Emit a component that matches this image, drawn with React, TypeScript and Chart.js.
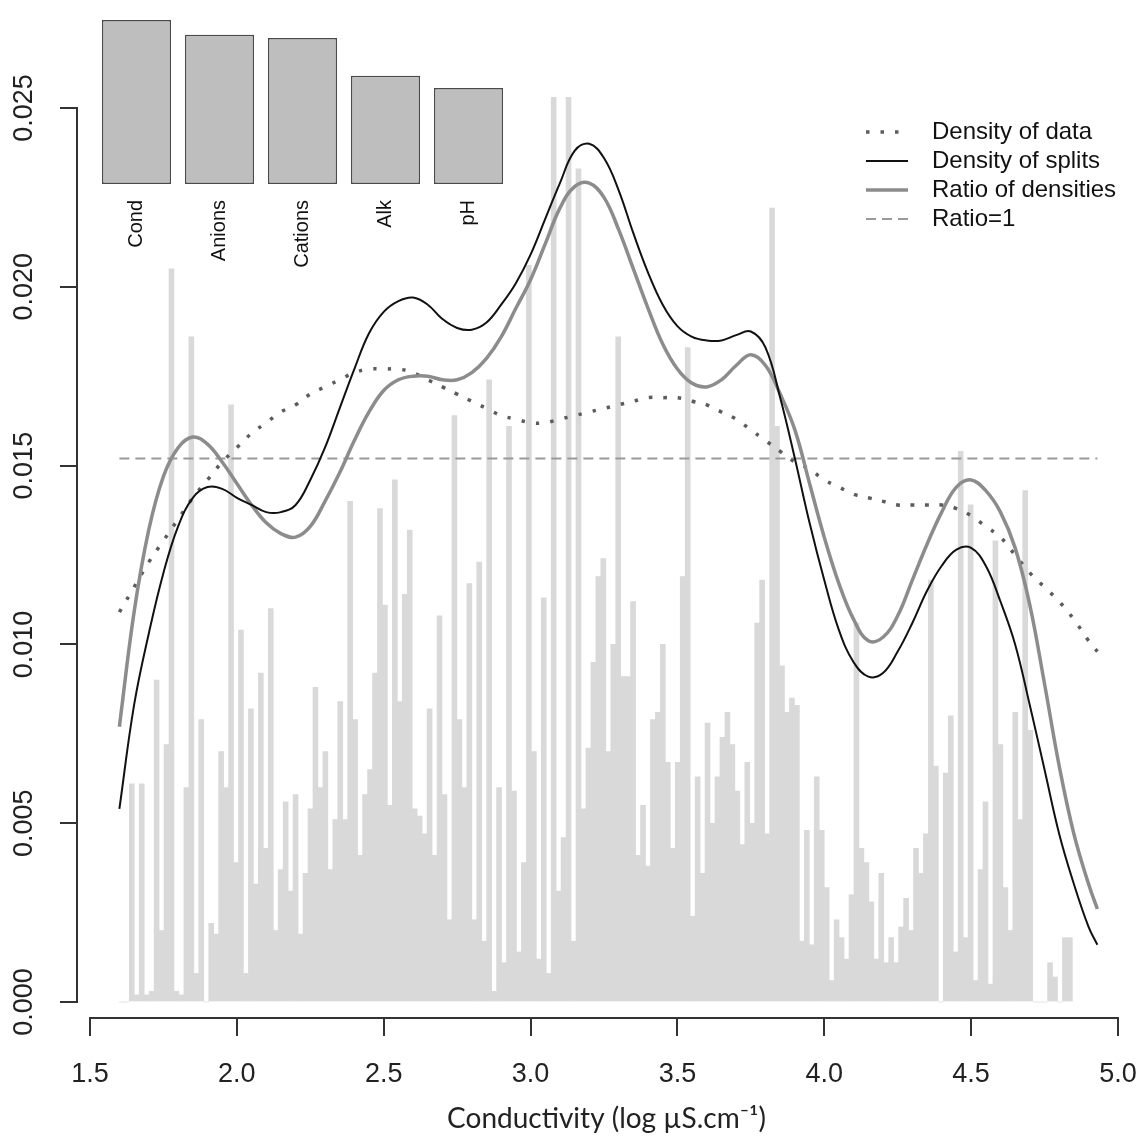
import React, { useEffect, useRef } from "react";
import Chart from "chart.js/auto";

// histogram of conductivity (density per bin)
const histStart = 1.6;
const histBinWidth = 0.0169;
const histDensity = [
  0, 0, 0.0061, 0.0002, 0.0061, 0.0002, 0.0003, 0.009, 0.002, 0.0072,
  0.0205, 0.0003, 0.0002, 0.006, 0.0186, 0.0008, 0.0079, 0, 0.0022, 0.0019,
  0.007, 0.006, 0.0167, 0.0039, 0.0104, 0.0008, 0.0082, 0.0033, 0.0092, 0.0043,
  0.011, 0.002, 0.0037, 0.0056, 0.0031, 0.0058, 0.0019, 0.0036, 0.0054, 0.0088,
  0.006, 0.007, 0.0037, 0.0051, 0.0084, 0.0051, 0.014, 0.0079, 0.0041, 0.0058,
  0.0065, 0.0092, 0.0138, 0.0111, 0.0055, 0.0146, 0.0084, 0.0114, 0.0132, 0.0054,
  0.0052, 0.0047, 0.0082, 0.0041, 0.0108, 0.0058, 0.0023, 0.0164, 0.0079, 0.006,
  0.0117, 0.0023, 0.0123, 0.0017, 0.0174, 0.0003, 0.006, 0.0011, 0.0161, 0.0059,
  0.0014, 0.0039, 0.0206, 0.007, 0.0012, 0.0113, 0.0008, 0.0253, 0.0031, 0.0046,
  0.0253, 0.0017, 0.0233, 0.0054, 0.0071, 0.0095, 0.0119, 0.0124, 0.007, 0.01,
  0.0186, 0.0091, 0.0091, 0.0112, 0.0041, 0.0055, 0.0038, 0.0079, 0.0081, 0.01,
  0.0067, 0.0043, 0.0067, 0.0119, 0.0183, 0.0024, 0.0063, 0.0036, 0.0078, 0.005,
  0.0063, 0.0074, 0.0081, 0.0072, 0.0059, 0.0044, 0.0067, 0.005, 0.0106, 0.0118,
  0.0047, 0.0222, 0.0161, 0.0094, 0.0081, 0.0085, 0.0083, 0.0017, 0.0048, 0.0016,
  0.0063, 0.0048, 0.0032, 0.0006, 0.0023, 0.0018, 0.0012, 0.003, 0.0106, 0.0043,
  0.0039, 0.0028, 0.0012, 0.0036, 0.0011, 0.0018, 0.0011, 0.0021, 0.0029, 0.002,
  0.0043, 0.0036, 0.0047, 0.0118, 0.0066, 0, 0.0064, 0.008, 0.0014, 0.0154,
  0.0018, 0.0139, 0.0006, 0.0037, 0.0056, 0.0005, 0.0129, 0.0072, 0.0032, 0.002,
  0.0081, 0.0051, 0.0143, 0.0076, 0, 0, 0, 0.0011, 0.0007, 0,
  0.0018, 0.0018,
];

const curveX = [
  1.6, 1.65, 1.7, 1.75, 1.8, 1.85, 1.9, 1.95, 2.0, 2.05,
  2.1, 2.15, 2.2, 2.25, 2.3, 2.35, 2.4, 2.45, 2.5, 2.55,
  2.6, 2.65, 2.7, 2.75, 2.8, 2.85, 2.9, 2.95, 3.0, 3.05,
  3.1, 3.15, 3.2, 3.25, 3.3, 3.35, 3.4, 3.45, 3.5, 3.55,
  3.6, 3.65, 3.7, 3.75, 3.8, 3.85, 3.9, 3.95, 4.0, 4.05,
  4.1, 4.15, 4.2, 4.25, 4.3, 4.35, 4.4, 4.45, 4.5, 4.55,
  4.6, 4.65, 4.7, 4.75, 4.8, 4.85, 4.9, 4.93,
];

const densityData = [
  0.0109, 0.0116, 0.0123, 0.0129, 0.0135, 0.0141, 0.0146, 0.0151, 0.0155, 0.0159,
  0.0162, 0.0165, 0.0167, 0.017, 0.0172, 0.0174, 0.0176, 0.0177, 0.0177, 0.0177,
  0.0176, 0.0174, 0.0172, 0.017, 0.0168, 0.0166, 0.0164, 0.0163, 0.0162, 0.0162,
  0.0163, 0.0164, 0.0165, 0.0166, 0.0167, 0.0168, 0.0169, 0.0169, 0.0169, 0.0168,
  0.0167, 0.0165, 0.0163, 0.016, 0.0157, 0.0154, 0.0151, 0.0149, 0.0146, 0.0144,
  0.0142, 0.0141, 0.014, 0.0139, 0.0139, 0.0139, 0.0139, 0.0138, 0.0136, 0.0133,
  0.013, 0.0125, 0.012, 0.0116, 0.0112, 0.0107, 0.0101, 0.0098,
];

const densitySplits = [
  0.0054, 0.0083, 0.0103, 0.012, 0.0133, 0.0141, 0.0144, 0.01435, 0.0141, 0.0139,
  0.0137, 0.0137, 0.0139, 0.0146, 0.0155, 0.0166, 0.0177, 0.0187, 0.0193, 0.0196,
  0.0197, 0.0195, 0.0191, 0.01885, 0.0188, 0.019, 0.0195, 0.0201, 0.0209, 0.0219,
  0.0229, 0.0238, 0.024, 0.0236, 0.0227, 0.0215, 0.0204, 0.0195, 0.0189, 0.0186,
  0.0185, 0.0185, 0.01865, 0.01875, 0.0183, 0.0169, 0.0152, 0.0134, 0.0118, 0.0104,
  0.0095, 0.0091, 0.0092, 0.0098, 0.0106, 0.0115, 0.0122, 0.01265, 0.0127, 0.0122,
  0.0112, 0.01, 0.0083, 0.0065, 0.0047, 0.0033, 0.0021, 0.0016,
];

const densityRatio = [
  0.0077, 0.0109, 0.0132, 0.0147, 0.0155, 0.0158, 0.0156, 0.0151, 0.0145, 0.0139,
  0.0134, 0.0131, 0.013, 0.0133, 0.014, 0.0148, 0.0157, 0.0165, 0.0171, 0.0174,
  0.0175, 0.0175, 0.0174, 0.0174, 0.0176, 0.018, 0.0186, 0.0194, 0.0202, 0.0212,
  0.0222, 0.0228, 0.0229, 0.0225, 0.0216, 0.0205, 0.0194, 0.0184, 0.0177, 0.0173,
  0.0172, 0.0174, 0.0178, 0.0181, 0.0178, 0.017, 0.016, 0.0145, 0.013, 0.0117,
  0.0107, 0.0101, 0.0102, 0.0108, 0.0118, 0.0128, 0.0137, 0.0144, 0.0146, 0.0143,
  0.0137, 0.0127, 0.0111, 0.0089, 0.0066, 0.0047, 0.0033, 0.0026,
];

const ratioOneX = [1.6, 4.93];
const ratioOneY = [0.0152, 0.0152];

const xTicks = [1.5, 2.0, 2.5, 3.0, 3.5, 4.0, 4.5, 5.0];
const yTicks = [0, 0.005, 0.01, 0.015, 0.02, 0.025];

const insetLabels = ["Cond", "Anions", "Cations", "Alk", "pH"];
const insetValues = [100, 91, 89, 66, 58.5];

const FONT = "'Liberation Sans', Arial, sans-serif";

// R style axes: lines only over the tick range
const rAxisLines = {
  id: "rAxisLines",
  afterDraw(chart: any) {
    const { ctx, chartArea, scales } = chart;
    const x = scales.x;
    const y = scales.y;
    ctx.save();
    ctx.strokeStyle = "#333";
    ctx.lineWidth = 2;
    ctx.beginPath();
    ctx.moveTo(x.getPixelForValue(xTicks[0]) - 1, chartArea.bottom);
    ctx.lineTo(x.getPixelForValue(xTicks[xTicks.length - 1]) + 1, chartArea.bottom);
    ctx.moveTo(chartArea.left, y.getPixelForValue(yTicks[0]) + 1);
    ctx.lineTo(chartArea.left, y.getPixelForValue(yTicks[yTicks.length - 1]) - 1);
    ctx.stroke();
    ctx.restore();
  },
};

// legend drawn inside the plot, top right
const insideLegend = {
  id: "insideLegend",
  afterDraw(chart: any, _args: any, opts: any) {
    const { ctx } = chart;
    const items = chart.data.datasets.filter((d: any) => d.type === "line");
    ctx.save();
    ctx.font = opts.font;
    ctx.textBaseline = "middle";
    items.forEach((ds: any, i: number) => {
      const yy = opts.top + i * opts.rowHeight;
      ctx.strokeStyle = ds.borderColor;
      ctx.lineWidth = ds.borderWidth;
      ctx.setLineDash(ds.borderDash || []);
      ctx.beginPath();
      ctx.moveTo(opts.lineStart, yy);
      ctx.lineTo(opts.lineEnd, yy);
      ctx.stroke();
      ctx.setLineDash([]);
      ctx.fillStyle = opts.color;
      ctx.fillText(ds.label, opts.textStart, yy);
    });
    ctx.restore();
  },
};

const MainChart: React.FC = () => {
  const chartRef = useRef<HTMLCanvasElement>(null);

  useEffect(() => {
    const ctx = chartRef.current?.getContext("2d");
    if (!ctx) return;
    const histPoints = histDensity.map((y, i) => ({
      x: histStart + (i + 0.5) * histBinWidth,
      y,
    }));
    const toXY = (ys: number[]) => ys.map((y, i) => ({ x: curveX[i], y }));

    const chart = new Chart(ctx, {
      type: "bar",
      data: {
        datasets: [
          {
            type: "line",
            label: "Density of data",
            data: toXY(densityData),
            borderColor: "#5c5c5c",
            borderWidth: 3.5,
            borderDash: [3.5, 11],
            pointRadius: 0,
            tension: 0.4,
            order: 3,
          },
          {
            type: "line",
            label: "Density of splits",
            data: toXY(densitySplits),
            borderColor: "#111",
            borderWidth: 2,
            pointRadius: 0,
            tension: 0.4,
            order: 1,
          },
          {
            type: "line",
            label: "Ratio of densities",
            data: toXY(densityRatio),
            borderColor: "#8c8c8c",
            borderWidth: 3.5,
            pointRadius: 0,
            tension: 0.4,
            order: 2,
          },
          {
            type: "line",
            label: "Ratio=1",
            data: ratioOneX.map((x, i) => ({ x, y: ratioOneY[i] })),
            borderColor: "#9a9a9a",
            borderWidth: 2,
            borderDash: [10, 6],
            pointRadius: 0,
            order: 4,
          },
          {
            type: "bar",
            label: "Histogram",
            data: histPoints,
            backgroundColor: "#d9d9d9",
            borderWidth: 0,
            barPercentage: 1,
            categoryPercentage: 1,
            order: 10,
          },
        ] as any,
      },
      options: {
        responsive: true,
        maintainAspectRatio: false,
        animation: false,
        events: [],
        layout: { padding: { left: 0, top: 40, right: 5, bottom: 0 } },
        plugins: {
          legend: { display: false },
          tooltip: { enabled: false },
          insideLegend: {
            font: `24px ${FONT}`,
            top: 132,
            rowHeight: 29,
            lineStart: 866,
            lineEnd: 908,
            textStart: 932,
            color: "#111",
          },
        } as any,
        scales: {
          x: {
            type: "linear",
            min: 1.4557,
            max: 5.0615,
            offset: false,
            grid: {
              display: true,
              offset: false,
              drawOnChartArea: false,
              drawTicks: true,
              tickLength: 18,
              lineWidth: 2,
              tickWidth: 2,
              tickColor: "#333",
            },
            border: { display: false },
            ticks: {
              font: { family: FONT, size: 27 },
              color: "#222",
              padding: 22,
              autoSkip: false,
              minRotation: 0,
              maxRotation: 0,
              callback: (v: any) => Number(v).toFixed(1),
            },
            title: {
              display: true,
              text: "Conductivity (log µS.cm⁻¹)",
              font: { family: "Lato, 'Open Sans', sans-serif", size: 28 },
              color: "#222",
              padding: { top: 0, bottom: 2 },
            },
            afterBuildTicks: (s: any) => {
              s.ticks = xTicks.map((value) => ({ value }));
            },
            afterFit: (s: any) => {
              s.height = 120;
              s.paddingLeft = 0;
              s.paddingRight = 0;
            },
          },
          y: {
            type: "linear",
            min: -0.000447,
            max: 0.026902,
            grid: {
              display: true,
              drawOnChartArea: false,
              drawTicks: true,
              tickLength: 17,
              lineWidth: 2,
              tickWidth: 2,
              tickColor: "#333",
            },
            border: { display: false },
            ticks: {
              font: { family: FONT, size: 27 },
              color: "#222",
              padding: 2,
              autoSkip: false,
              minRotation: 90,
              maxRotation: 90,
              crossAlign: "center",
              callback: (v: any) => Number(v).toFixed(3),
            },
            afterBuildTicks: (s: any) => {
              s.ticks = yTicks.map((value) => ({ value }));
            },
            afterFit: (s: any) => {
              s.width = 77;
              s.paddingTop = 0;
              s.paddingBottom = 0;
            },
          },
        } as any,
      },
      plugins: [rAxisLines, insideLegend],
    });

    return () => chart.destroy();
  }, []);

  return (
    <div style={{ position: "absolute", left: 0, top: 0, width: 1141, height: 1138 }}>
      <canvas ref={chartRef} />
    </div>
  );
};

const InsetChart: React.FC = () => {
  const chartRef = useRef<HTMLCanvasElement>(null);

  useEffect(() => {
    const ctx = chartRef.current?.getContext("2d");
    if (!ctx) return;
    const chart = new Chart(ctx, {
      type: "bar",
      data: {
        labels: insetLabels,
        datasets: [
          {
            data: insetValues,
            backgroundColor: "#bebebe",
            borderColor: "#4a4a4a",
            borderWidth: 1.5,
            borderSkipped: false,
            barPercentage: 0.833,
            categoryPercentage: 1,
          },
        ],
      },
      options: {
        responsive: true,
        maintainAspectRatio: false,
        animation: false,
        events: [],
        layout: { padding: { left: 33, top: 20, right: 22, bottom: 0 } },
        plugins: { legend: { display: false }, tooltip: { enabled: false } },
        scales: {
          x: {
            grid: { display: false, drawTicks: false },
            border: { display: false },
            ticks: {
              font: { family: FONT, size: 20, lineHeight: 0 },
              color: "#111",
              minRotation: 90,
              maxRotation: 90,
              padding: 16,
              autoSkip: false,
            },
            afterFit: (s: any) => {
              s.height = 106;
              s.paddingLeft = 0;
              s.paddingRight = 0;
            },
          },
          y: { display: false, min: 0, max: 100 },
        } as any,
      },
    });
    return () => chart.destroy();
  }, []);

  return (
    <div style={{ position: "absolute", left: 62, top: 0, width: 470, height: 290 }}>
      <canvas ref={chartRef} />
    </div>
  );
};

export default function App() {
  return (
    <div>
      <MainChart />
      <InsetChart />
    </div>
  );
}
